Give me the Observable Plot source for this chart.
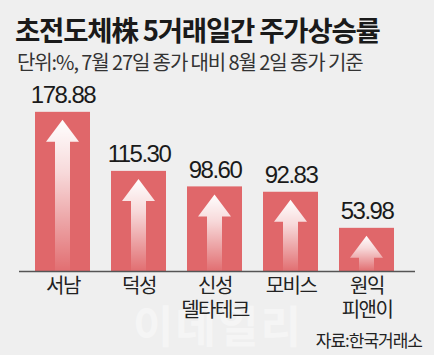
<!DOCTYPE html>
<html><head><meta charset="utf-8">
<script src="https://cdn.jsdelivr.net/npm/d3@7"></script>
<script src="https://cdn.jsdelivr.net/npm/@observablehq/plot@0.6"></script>
<style>
body{margin:0;background:#efefef;}
#wrap{position:relative;width:434px;height:355px;background:#efefef;overflow:hidden;font-family:"Noto Sans CJK KR","Noto Sans",sans-serif;}
#title{position:absolute;left:15px;top:9px;font-size:27.5px;font-weight:700;color:#1a1a1a;letter-spacing:-1.2px;white-space:nowrap;}
#sub{position:absolute;left:17px;top:47px;font-size:20px;color:#333;letter-spacing:-1.1px;white-space:nowrap;}
#chart{position:absolute;left:0;top:75px;}
#wm{position:absolute;left:133px;top:292px;font-size:44px;font-weight:700;color:rgba(255,255,255,0.4);letter-spacing:2px;white-space:nowrap;}
#src{position:absolute;right:12px;top:327px;font-size:17px;color:#222;letter-spacing:-1px;white-space:nowrap;}
.vlab text{font-family:"Liberation Sans",Arial,sans-serif !important;letter-spacing:-1.6px;}
</style></head>
<body>
<div id="wrap">
<div id="title">초전도체株 5거래일간 주가상승률</div>
<div id="sub">단위:%, 7월 27일 종가 대비 8월 2일 종가 기준</div>
<div id="wm">이데일리</div>
<div id="chart"></div>
<div id="src">자료:한국거래소</div>
</div>
<script>
const categories = ["서남", "덕성", "신성\n델타테크", "모비스", "원익\n피앤이"];
const values = [178.88, 115.30, 98.60, 92.83, 53.98];
const valueLabels = ["178.88", "115.30", "98.60", "92.83", "53.98"];

const data = categories.map((c, i) => ({name: c, value: values[i], label: valueLabels[i]}));

const barColor = "#e0676a";

function arrowRender(index, scales, values, dimensions, context) {
  const svgNS = "http://www.w3.org/2000/svg";
  const g = document.createElementNS(svgNS, "g");
  const defs = document.createElementNS(svgNS, "defs");
  const grad = document.createElementNS(svgNS, "linearGradient");
  grad.setAttribute("id", "arrowGrad");
  grad.setAttribute("x1", "0"); grad.setAttribute("y1", "0");
  grad.setAttribute("x2", "0"); grad.setAttribute("y2", "1");
  [["0", 1], ["0.35", 0.75], ["1", 0.05]].forEach(([o, op]) => {
    const s = document.createElementNS(svgNS, "stop");
    s.setAttribute("offset", o);
    s.setAttribute("stop-color", "#ffffff");
    s.setAttribute("stop-opacity", op);
    grad.appendChild(s);
  });
  defs.appendChild(grad);
  g.appendChild(defs);
  const bw = scales.x.bandwidth();
  const bottom = dimensions.height - dimensions.marginBottom;
  for (const i of index) {
    const x0 = values.x[i];
    const top = values.y2[i] !== undefined ? Math.min(values.y1[i], values.y2[i]) : values.y[i];
    const cx = x0 + bw / 2;
    const tipY = top + 8;
    const headH = 22, headW = 33, shaftW = 15;
    const baseY = tipY + headH;
    const d = `M${cx},${tipY} L${cx + headW / 2},${baseY} L${cx + shaftW / 2},${baseY} L${cx + shaftW / 2},${bottom} L${cx - shaftW / 2},${bottom} L${cx - shaftW / 2},${baseY} L${cx - headW / 2},${baseY} Z`;
    const p = document.createElementNS(svgNS, "path");
    p.setAttribute("d", d);
    p.setAttribute("fill", "url(#arrowGrad)");
    g.appendChild(p);
  }
  return g;
}

const chart = Plot.plot({
  width: 434,
  height: 255,
  marginLeft: 11.5,
  marginRight: 17.5,
  marginTop: 26.5,
  marginBottom: 59,
  style: {background: "transparent", overflow: "visible"},
  x: {domain: categories, padding: 0.28, axis: null},
  y: {domain: [7.5, 190], axis: null},
  marks: [
    Plot.barY(data, {x: "name", y: "value", fill: barColor, clip: true}),
    Plot.barY(data, {x: "name", y: "value", fill: "none", render: arrowRender}),
    Plot.ruleY([7.5], {stroke: "#555", strokeWidth: 1.5, insetLeft: 7.5, insetRight: 1.5}),
    Plot.text(data, {x: "name", y: "value", text: "label", dy: -9, lineAnchor: "bottom",
      fontSize: 24, fill: "#1a1a1a", ariaLabel: "value-labels",
      fontFamily: "Liberation Sans"}),
    Plot.text(data, {x: "name", frameAnchor: "bottom", text: "name", dy: 4, lineAnchor: "top",
      fontSize: 20, lineHeight: 1.2, fill: "#222",
      fontFamily: "Noto Sans CJK KR"})
  ]
});
// tighten the value labels and category labels like the condensed newspaper type
chart.querySelectorAll('g[aria-label="value-labels"]').forEach(g => g.classList.add("vlab"));
chart.querySelectorAll('g[aria-label="text"]').forEach(g => { g.style.letterSpacing = "-1.5px"; });
document.getElementById("chart").appendChild(chart);
</script>
</body></html>
